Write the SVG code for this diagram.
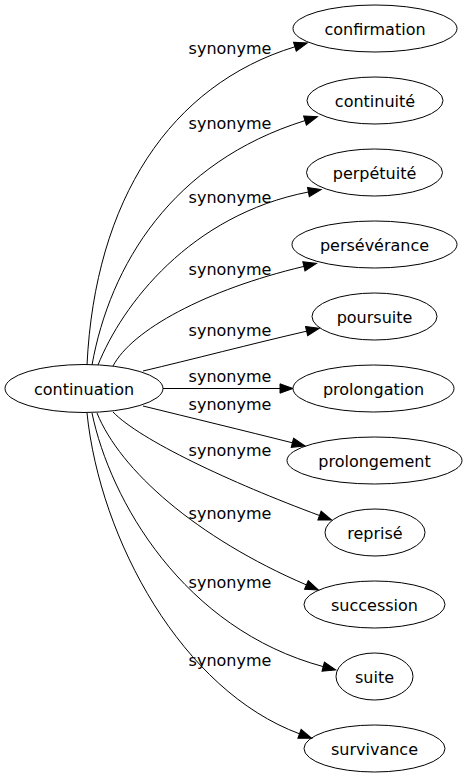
<svg xmlns="http://www.w3.org/2000/svg" width="466" height="779" viewBox="0 0 466 779">
<style>
  .node ellipse { fill: none; stroke: #000; stroke-width: 1; }
  .node text { font-family: "DejaVu Sans", Verdana, sans-serif; font-size: 16px; text-anchor: middle; fill: #000; }
  .edges path { fill: none; stroke: #000; stroke-width: 1; marker-end: url(#arrow); }
  .edges text { font-family: "DejaVu Sans", Verdana, sans-serif; font-size: 16px; text-anchor: middle; fill: #000; }
</style>
<defs>
  <marker id="arrow" markerUnits="userSpaceOnUse" markerWidth="14" markerHeight="10" refX="0" refY="4.7" orient="auto" overflow="visible">
    <path d="M0,0 L13,4.7 L0,9.4 Z" fill="#000" stroke="#000" stroke-width="1"/>
  </marker>
</defs>
<rect width="466" height="779" fill="#fff"/>
<g id="edges" class="edges">
  <path d="M87,365 C95,200 170,85 294.9,46.8"/>
  <path d="M92,365 C110,265 172,162 305,120.6"/>
  <path d="M98,365 C122,305 190,215 308.4,192"/>
  <path d="M113,366 C132,330 205,290 303.9,266.4"/>
  <path d="M143,371 C190,360 253,343.5 306.6,331.2"/>
  <path d="M163,388.5 L280,388.5"/>
  <path d="M143,406 C190,417.5 243.9,430.65 292.4,442.8"/>
  <path d="M113,412 C140,440 230.4,482.5 319.5,515.5"/>
  <path d="M97,413 C120,470 196.1,537.5 306.4,584.9"/>
  <path d="M92,413 C110,500 183.3,628.9 323.2,666.6"/>
  <path d="M87,413 C100,540 182.3,690.4 299.5,733.8"/>
  <text x="230" y="54">synonyme</text>
  <text x="230" y="129">synonyme</text>
  <text x="230" y="203">synonyme</text>
  <text x="230" y="275">synonyme</text>
  <text x="230" y="336">synonyme</text>
  <text x="230" y="382">synonyme</text>
  <text x="230" y="410">synonyme</text>
  <text x="230" y="456">synonyme</text>
  <text x="230" y="519">synonyme</text>
  <text x="230" y="588">synonyme</text>
  <text x="230" y="666">synonyme</text>
</g>
<g id="node-continuation" class="node"><ellipse cx="84" cy="388.5" rx="79" ry="24"/><text x="84" y="394.5">continuation</text></g>
<g id="node-confirmation" class="node"><ellipse cx="375" cy="28.5" rx="82" ry="23.5"/><text x="375" y="34.5">confirmation</text></g>
<g id="node-continuite" class="node"><ellipse cx="375" cy="100.5" rx="68" ry="23.5"/><text x="375" y="106.5">continuité</text></g>
<g id="node-perpetuite" class="node"><ellipse cx="374.5" cy="172.5" rx="68" ry="23.5"/><text x="374.5" y="178.5">perpétuité</text></g>
<g id="node-perseverance" class="node"><ellipse cx="374.5" cy="244.5" rx="82.5" ry="23.5"/><text x="374.5" y="250.5">persévérance</text></g>
<g id="node-poursuite" class="node"><ellipse cx="374.5" cy="316.5" rx="62.5" ry="23.5"/><text x="374.5" y="322.5">poursuite</text></g>
<g id="node-prolongation" class="node"><ellipse cx="373.5" cy="388.5" rx="80.5" ry="23.5"/><text x="373.5" y="394.5">prolongation</text></g>
<g id="node-prolongement" class="node"><ellipse cx="374.5" cy="460.5" rx="87.5" ry="23.5"/><text x="374.5" y="466.5">prolongement</text></g>
<g id="node-reprise" class="node"><ellipse cx="375" cy="532.5" rx="50" ry="23.5"/><text x="375" y="538.5">reprisé</text></g>
<g id="node-succession" class="node"><ellipse cx="374.5" cy="604.5" rx="70.5" ry="23.5"/><text x="374.5" y="610.5">succession</text></g>
<g id="node-suite" class="node"><ellipse cx="374.5" cy="676.5" rx="38.5" ry="23.5"/><text x="374.5" y="682.5">suite</text></g>
<g id="node-survivance" class="node"><ellipse cx="374.5" cy="748.5" rx="70.5" ry="23.5"/><text x="374.5" y="754.5">survivance</text></g>
</svg>
